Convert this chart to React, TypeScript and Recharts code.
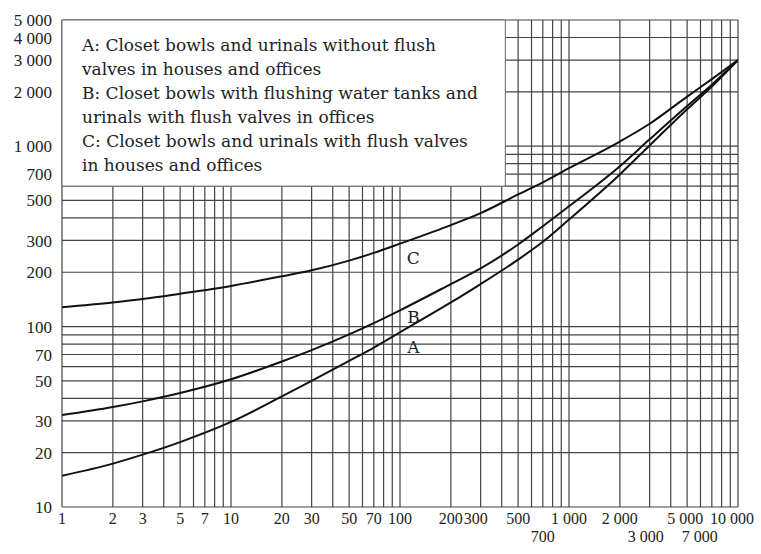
import React from 'react';
import {
  LineChart,
  Line,
  XAxis,
  YAxis,
  CartesianGrid,
  ReferenceArea,
  ReferenceDot,
} from 'recharts';

// Flow values (x) shared by all three curves
const X_VALUES = [1, 2, 3, 5, 10, 20, 30, 50, 70, 100, 200, 300, 500, 700, 1000, 2000, 3000, 5000, 7000, 10000];

// Curve A: closet bowls and urinals without flush valves
const A_VALUES = [14.9, 17.4, 19.5, 22.9, 29.6, 41, 50, 64.5, 76.5, 93, 136, 172, 235, 295, 392, 697, 1009, 1600, 2140, 3000];
// Curve B: closet bowls with flushing water tanks
const B_VALUES = [32.3, 35.8, 38.5, 42.8, 51, 64, 74, 90.5, 104.5, 123, 172, 210, 285, 360, 464, 774, 1090, 1668, 2190, 3000];
// Curve C: closet bowls and urinals with flush valves
const C_VALUES = [128, 136, 142, 152, 168, 190, 205, 232, 256, 288, 365, 425, 540, 630, 755, 1060, 1330, 1880, 2350, 3000];

const X_TICKS = [1, 2, 3, 5, 7, 10, 20, 30, 50, 70, 100, 200, 300, 500, 700, 1000, 2000, 3000, 5000, 7000, 10000];
const X_TICKS_SECOND_ROW = [700, 3000, 7000];
const Y_TICKS = [10, 20, 30, 50, 70, 100, 200, 300, 500, 700, 1000, 2000, 3000, 4000, 5000];

const X_GRID = [1, 2, 3, 4, 5, 6, 7, 8, 9, 10, 20, 30, 40, 50, 60, 70, 80, 90, 100, 200, 300, 400, 500, 600, 700, 800, 900, 1000, 2000, 3000, 4000, 5000, 6000, 7000, 8000, 9000, 10000];
const Y_GRID = [10, 20, 30, 40, 50, 60, 70, 80, 90, 100, 200, 300, 400, 500, 600, 700, 800, 900, 1000, 2000, 3000, 4000, 5000];

const LEGEND_LINES = [
  'A: Closet bowls and urinals without flush',
  'valves in houses and offices',
  'B: Closet bowls with flushing water tanks and',
  'urinals with flush valves in offices',
  'C: Closet bowls and urinals with flush valves',
  'in houses and offices',
];

const CURVE_LABELS = [
  { name: 'C', x: 120, y: 241 },
  { name: 'B', x: 120, y: 113 },
  { name: 'A', x: 120, y: 77 },
];

const makeSeries = (ys: number[]) => X_VALUES.map((x, i) => ({ x, y: ys[i] }));
const seriesA = makeSeries(A_VALUES);
const seriesB = makeSeries(B_VALUES);
const seriesC = makeSeries(C_VALUES);

const TICK_FONT = '"Liberation Serif", serif';
const TEXT_FONT = '"DejaVu Serif", serif';

const fmt = (v: number) => (v >= 1000 ? `${Math.floor(v / 1000)} 000` : String(v));

const X_SHIFT: Record<number, number> = { 300: -5, 5000: -2, 7000: -12, 10000: -6, 3000: -4 };

const XTick = (props: any) => {
  const { x, y, payload } = props;
  const v = payload.value as number;
  const second = X_TICKS_SECOND_ROW.includes(v);
  return (
    <text
      x={x + (X_SHIFT[v] || 0)}
      y={y + (second ? 33 : 15)}
      textAnchor="middle"
      style={{ fontFamily: TICK_FONT }}
      fontSize={16}
      fill="#222"
    >
      {fmt(v)}
    </text>
  );
};

const LegendText = (props: any) => {
  const vb = props.viewBox || { x: 62, y: 20 };
  return (
    <g>
      {LEGEND_LINES.map((line, i) => (
        <text
          key={i}
          x={vb.x + 20}
          y={vb.y + 31 + i * 24}
          style={{ fontFamily: TEXT_FONT }}
          fontSize={17}
          fill="#222"
        >
          {line}
        </text>
      ))}
    </g>
  );
};

export default function App() {
  return (
    <div style={{ position: 'absolute', left: 0, top: 0, width: 761, height: 554, background: '#fff' }}>
      <LineChart width={761} height={554} margin={{ top: 20, right: 23, bottom: 0, left: 0 }}>
        <CartesianGrid
          horizontalValues={Y_GRID}
          verticalValues={X_GRID}
          stroke="#444"
          strokeWidth={1.2}
        />
        <XAxis
          type="number"
          dataKey="x"
          scale="log"
          domain={[1, 10000]}
          allowDataOverflow
          ticks={X_TICKS}
          interval={0}
          tick={<XTick />}
          tickLine={false}
          axisLine={false}
          tickSize={0}
          height={47}
        />
        <YAxis
          type="number"
          dataKey="y"
          scale="log"
          domain={[10, 5000]}
          allowDataOverflow
          ticks={Y_TICKS}
          interval={0}
          tickFormatter={fmt}
          tick={{ fontFamily: TICK_FONT, fontSize: 17, fill: '#222' }}
          tickLine={false}
          axisLine={false}
          tickSize={0}
          tickMargin={10}
          width={62}
        />
        <ReferenceArea
          x1={1}
          x2={420}
          y1={600}
          y2={5000}
          fill="#fff"
          fillOpacity={1}
          stroke="#666"
          strokeWidth={1}
          ifOverflow="visible"
          label={(p: any) => <LegendText {...p} />}
        />
        <Line data={seriesA} dataKey="y" type="monotone" dot={false} stroke="#111" strokeWidth={2} isAnimationActive={false} />
        <Line data={seriesB} dataKey="y" type="monotone" dot={false} stroke="#111" strokeWidth={2} isAnimationActive={false} />
        <Line data={seriesC} dataKey="y" type="monotone" dot={false} stroke="#111" strokeWidth={2} isAnimationActive={false} />
        {CURVE_LABELS.map((c) => (
          <ReferenceDot
            key={c.name}
            x={c.x}
            y={c.y}
            r={0}
            fill="none"
            stroke="none"
            ifOverflow="visible"
            label={{ value: c.name, position: 'center', fontFamily: TEXT_FONT, fontSize: 17, fill: '#222' }}
          />
        ))}
      </LineChart>
    </div>
  );
}
